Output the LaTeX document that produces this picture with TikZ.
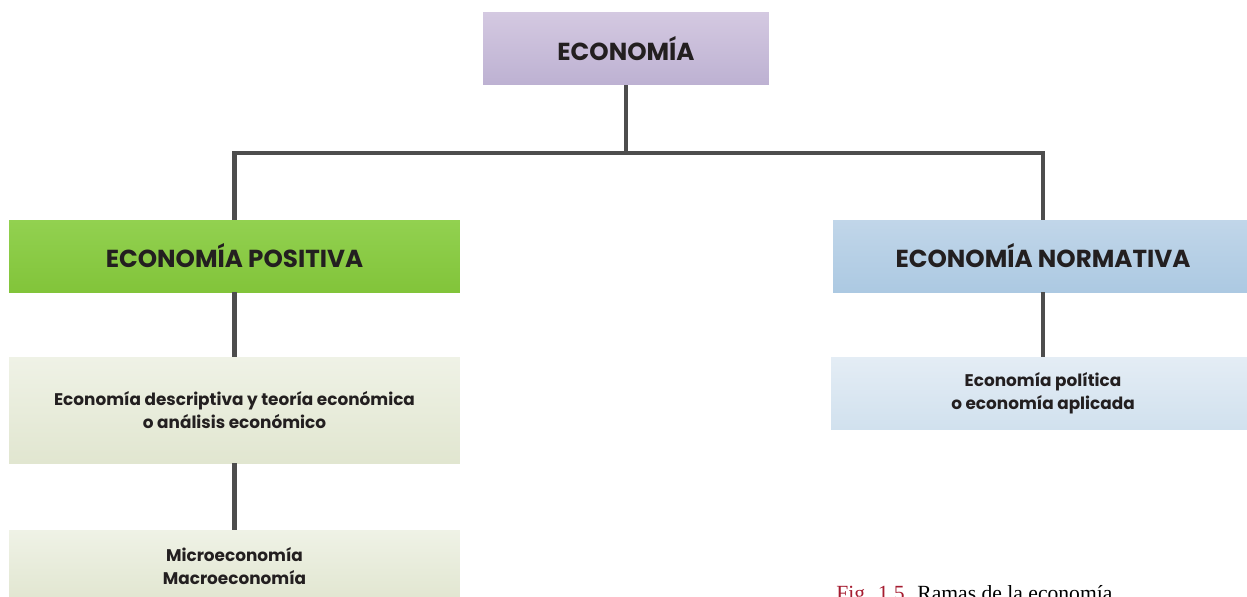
\documentclass[tikz,border=0pt]{standalone}
\usepackage{fontspec}
\setmainfont{Poppins}
\newfontfamily\capfont{Liberation Serif}
\usepackage{tikz}
\usetikzlibrary{positioning}
\definecolor{linegray}{HTML}{4D4D4D}
\definecolor{txtdark}{HTML}{231F20}
\definecolor{figred}{HTML}{A51C30}

\begin{document}
\begin{tikzpicture}[x = .02cm, y = -.02cm,
  box/.style = {inner sep = 0pt, text = txtdark, align = center, minimum width = 9.02cm},
  head/.style = {box, font = \fontsize{14}{16}\selectfont\bfseries, minimum height = 1.44cm},
  sub/.style = {box, font = \fontsize{9.6}{13.2}\selectfont\bfseries},
  link/.style = {linegray, line width = 2.6pt}]
\clip (0,0) rectangle (1247,596);
\node[head, top color = {rgb,255:red,212;green,201;blue,225}, bottom color = {rgb,255:red,189;green,177;blue,210}, minimum width = 5.72cm, minimum height = 1.46cm] (econ) at (626,48.5) {ECONOMÍA};
\node[head, top color = {rgb,255:red,146;green,209;blue,80}, bottom color = {rgb,255:red,130;green,196;blue,58}] (pos) at (234.5,256) {ECONOMÍA POSITIVA};
\node[head, top color = {rgb,255:red,193;green,214;blue,233}, bottom color = {rgb,255:red,172;green,201;blue,226}, minimum width = 8.4cm] (norm) at (1043,256) {ECONOMÍA NORMATIVA};
\node[sub, top color = {rgb,255:red,239;green,242;blue,230}, bottom color = {rgb,255:red,225;green,230;blue,208}, minimum height = 2.12cm] (desc) at (234.5,410) {Economía descriptiva y teoría económica\\o análisis económico};
\node[sub, top color = {rgb,255:red,239;green,242;blue,230}, bottom color = {rgb,255:red,225;green,230;blue,208}, minimum height = 1.44cm] (micro) at (234.5,566) {Microeconomía\\Macroeconomía};
\node[sub, top color = {rgb,255:red,228;green,237;blue,245}, bottom color = {rgb,255:red,209;green,225;blue,238}, minimum width = 8.48cm, minimum height = 1.44cm] (pol) at (1043,393) {Economía política\\o economía aplicada};
\coordinate (split) at (626,153);
\draw[link] (econ.south) -- (split);
\draw[link] (pos.north) |- (split) -| (norm.north);
\draw[link] (pos.south) -- (desc.north);
\draw[link] (desc.south) -- (micro.north);
\draw[link] (norm.south) -- (pol.north);
\node[anchor = base west, inner sep = 0pt, font = \capfont\fontsize{12.3}{14}\selectfont] (cap) at (836,600) {\textcolor{figred}{Fig. 1.5.} Ramas de la economía};
\end{tikzpicture}
\end{document}
